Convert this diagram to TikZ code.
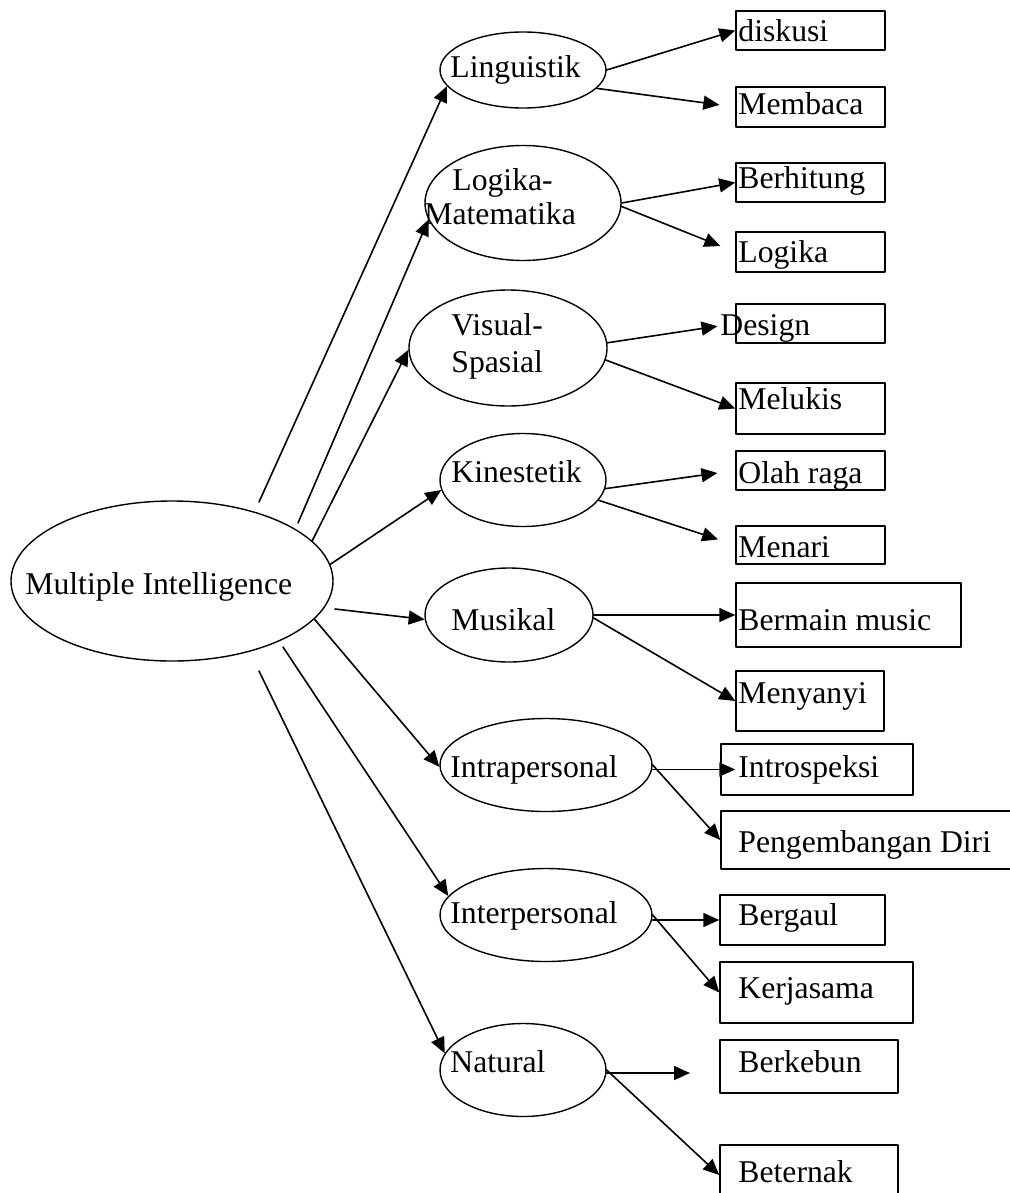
\documentclass[tikz,border=0pt]{standalone}
\usepackage{fontspec}
\setmainfont{Liberation Serif}
\usetikzlibrary{shapes.geometric,arrows.meta}
\tikzset{
  elp/.style={ellipse,draw,line width=0.7pt,inner sep=0pt},
  bx/.style={rectangle,draw,line width=0.75pt,inner sep=0pt},
  lbl/.style={anchor=base west,inner sep=0pt,font=\fontsize{15.85}{19}\selectfont},
  arr/.style={-{Triangle[length=8pt,width=7pt]},line width=0.8pt},
  gap/.style={shorten >=#1},
}
\begin{document}
\begin{tikzpicture}[x=0.5pt,y=-0.5pt,line cap=round,line join=round]
  \useasboundingbox (0,0) rectangle (1009,1193);

  % Centre ellipse
  \node[elp,minimum width=161pt,minimum height=80pt] (mi) at (172,581) {};
  \node[lbl] (mi-t) at (25,594) {Multiple Intelligence};

  % Kinds of intelligence
  \node[elp,minimum width=83pt,minimum height=38pt] (ling) at (523,70) {};
  \node[elp,minimum width=98pt,minimum height=57.5pt] (logm) at (523,203) {};
  \node[elp,minimum width=99pt,minimum height=58pt] (vis) at (508,348) {};
  \node[elp,minimum width=83pt,minimum height=46.5pt] (kin) at (523,480) {};
  \node[elp,minimum width=84pt,minimum height=47pt] (mus) at (509,615) {};
  \node[elp,minimum width=106pt,minimum height=46.5pt] (intra) at (546,765) {};
  \node[elp,minimum width=106pt,minimum height=46.5pt] (inter) at (546,915) {};
  \node[elp,minimum width=83pt,minimum height=46.5pt] (nat) at (523,1070) {};

  \node[lbl] (ling-t) at (450,78) {Linguistik};
  \node[lbl] (logm-t1) at (452,190) {Logika-};
  \node[lbl] (logm-t2) at (424,224) {Matematika};
  \node[lbl] (vis-t1) at (451,335) {Visual-};
  \node[lbl] (vis-t2) at (451,372) {Spasial};
  \node[lbl] (kin-t) at (451,482) {Kinestetik};
  \node[lbl] (mus-t) at (451,630) {Musikal};
  \node[lbl] (intra-t) at (450,777) {Intrapersonal};
  \node[lbl] (inter-t) at (450,923) {Interpersonal};
  \node[lbl] (nat-t) at (450,1072) {Natural};

  % Activity boxes
  \node[bx,minimum width=74.5pt,minimum height=19.5pt] (disk) at (810.5,30.5) {};
  \node[bx,minimum width=74.5pt,minimum height=20pt] (memb) at (810.5,107) {};
  \node[bx,minimum width=74.5pt,minimum height=19.5pt] (hit) at (810.5,182.5) {};
  \node[bx,minimum width=74.5pt,minimum height=20pt] (logk) at (810.5,252) {};
  \node[bx,minimum width=74.5pt,minimum height=19.5pt] (dsgn) at (810.5,323.5) {};
  \node[bx,minimum width=74.5pt,minimum height=25.5pt] (lukis) at (810.5,408.5) {};
  \node[bx,minimum width=74.5pt,minimum height=19.5pt] (olah) at (810.5,470.5) {};
  \node[bx,minimum width=74.5pt,minimum height=19pt] (tari) at (810.5,545) {};
  \node[bx,minimum width=112.5pt,minimum height=32pt] (main) at (848.5,615) {};
  \node[bx,minimum width=74pt,minimum height=30pt] (nyanyi) at (810,701) {};
  \node[bx,minimum width=96pt,minimum height=25.5pt] (intro) at (817,769.5) {};
  \node[bx,minimum width=150pt,minimum height=29pt] (diri) at (871,840) {};
  \node[bx,minimum width=82.5pt,minimum height=25pt] (gaul) at (802.5,920) {};
  \node[bx,minimum width=96.5pt,minimum height=30.5pt] (kerja) at (816.5,992.5) {};
  \node[bx,minimum width=89pt,minimum height=26.5pt] (kebun) at (809,1066.5) {};
  \node[bx,minimum width=89pt,minimum height=30pt] (ternak) at (809,1175) {};

  \node[lbl] (disk-t) at (738,42) {diskusi};
  \node[lbl] (memb-t) at (738,115) {Membaca};
  \node[lbl] (hit-t) at (738,188) {Berhitung};
  \node[lbl] (logk-t) at (738,262) {Logika};
  \node[lbl] (dsgn-t) at (720,335) {Design};
  \node[lbl] (lukis-t) at (738,409) {Melukis};
  \node[lbl] (olah-t) at (738,483) {Olah raga};
  \node[lbl] (tari-t) at (738,557) {Menari};
  \node[lbl] (main-t) at (738,630) {Bermain music};
  \node[lbl] (nyanyi-t) at (738,703) {Menyanyi};
  \node[lbl] (intro-t) at (738,777) {Introspeksi};
  \node[lbl] (diri-t) at (738,852) {Pengembangan Diri};
  \node[lbl] (gaul-t) at (738,925) {Bergaul};
  \node[lbl] (kerja-t) at (738,998) {Kerjasama};
  \node[lbl] (kebun-t) at (738,1072) {Berkebun};
  \node[lbl] (ternak-t) at (738,1182) {Beternak};

  % Loose arrow ends
  \coordinate (c-ling) at (259,502);
  \coordinate (c-logm) at (298,523);
  \coordinate (c-mus) at (335,609);
  \coordinate (c-inter) at (283,647);
  \coordinate (c-nat) at (259,671);
  \coordinate (c-kebun) at (690,1073);

  % Arrows from the centre
  \draw[arr] (c-ling) -- (ling.192);
  \draw[arr] (c-logm) -- (logm.190);
  \draw[arr] (mi.16) -- (vis.181);
  \draw[arr] (mi.6) -- (kin.187);
  \draw[arr] (c-mus) -- (mus.183);
  \draw[arr] (mi.345) -- (intra.181);
  \draw[arr] (c-inter) -- (inter.169);
  \draw[arr] (c-nat) -- (nat.168);

  % Arrows to the activities
  \draw[arr] (ling.east) -- (disk.west);
  \draw[arr,gap=8pt] (ling.-14) -- (memb.west);
  \draw[arr] (logm.east) -- (hit.west);
  \draw[arr,gap=8pt] (logm.-2) -- (logk.west);
  \draw[arr,gap=9pt] (vis.3) -- (dsgn.west);
  \draw[arr] (vis.-7) -- (lukis.west);
  \draw[arr,gap=9pt] (kin.-6) -- (olah.west);
  \draw[arr,gap=9pt] (kin.-15) -- (tari.west);
  \draw[arr] (mus.east) -- (main.west);
  \draw[arr] (mus.-2) -- (nyanyi.west);
  \draw[arr,gap=-7.5pt] (intro.west -| intra.east) -- (intro.west);
  \draw[arr] (intra.east) -- (diri.west);
  \draw[arr] (gaul.west -| inter.east) -- (gaul.west);
  \draw[arr] (inter.east) -- (kerja.west);
  \draw[arr] (c-kebun -| nat.east) -- (c-kebun);
  \draw[arr] (nat.east) -- (ternak.west);
\end{tikzpicture}
\end{document}
